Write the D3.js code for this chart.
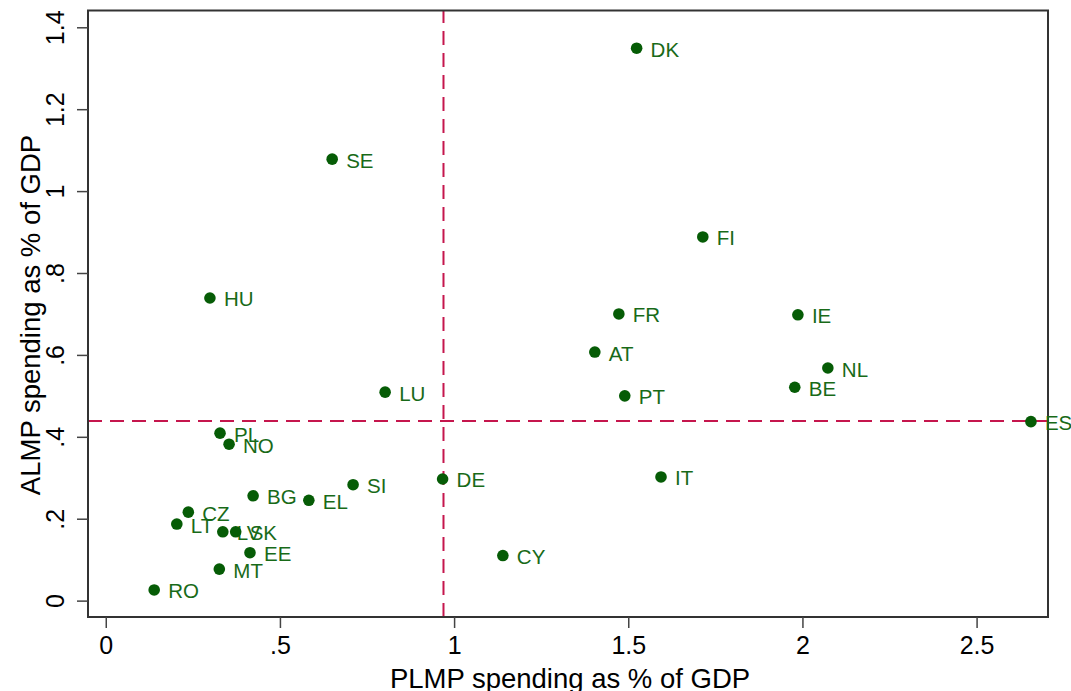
<!DOCTYPE html>
<html>
<head>
<meta charset="utf-8">
<script src="https://cdn.jsdelivr.net/npm/d3@7"></script>
<style>
  body { margin: 0; background: #fff; }
  text { font-family: "Liberation Sans", Arial, sans-serif; }
</style>
</head>
<body>
<script>
// country codes and spending (% of GDP)
var countries = ["DK","SE","FI","HU","FR","IE","AT","NL","BE","LU","PT","ES","PL","NO",
                 "DE","IT","SI","BG","EL","CZ","LT","LV","SK","EE","CY","MT","RO"]
var plmp = [1.524,0.650,1.714,0.299,1.473,1.987,1.404,2.073,1.978,0.802,1.490,2.656,0.328,0.354,
            0.967,1.594,0.710,0.423,0.583,0.237,0.204,0.336,0.373,0.414,1.140,0.326,0.139]
var almp = [1.349,1.078,0.888,0.739,0.700,0.698,0.607,0.568,0.521,0.509,0.500,0.437,0.409,0.382,
            0.297,0.302,0.283,0.256,0.245,0.216,0.187,0.168,0.168,0.117,0.110,0.077,0.026]
var xTicks = [0, 0.5, 1, 1.5, 2, 2.5]
var yTicks = [0, 0.2, 0.4, 0.6, 0.8, 1, 1.2, 1.4]

var width = 1071, height = 691
var svg = d3.select("body").append("svg")
    .attr("width", width).attr("height", height)

var data = countries.map(function(c, i){ return {label: c, x: plmp[i], y: almp[i]} })

var x = d3.scaleLinear().domain([-0.051, 2.705]).range([88, 1048])
var y = d3.scaleLinear().domain([-0.040, 1.441]).range([617, 10.5])

function fmt(v) {
    var s = String(v)
    return s.replace(/^0\./, ".")
}

// mean reference lines
var mx = d3.mean(plmp), my = d3.mean(almp)
svg.append("line")
    .attr("x1", x(mx)).attr("x2", x(mx))
    .attr("y1", y.range()[0]).attr("y2", y.range()[1])
    .attr("stroke", "#c5164d").attr("stroke-width", 2)
    .attr("stroke-dasharray", "14,8")
svg.append("line")
    .attr("x1", x.range()[0]).attr("x2", x.range()[1])
    .attr("y1", y(my)).attr("y2", y(my))
    .attr("stroke", "#c5164d").attr("stroke-width", 2)
    .attr("stroke-dasharray", "14,8")

// frame
svg.append("rect")
    .attr("x", 88).attr("y", 10.5)
    .attr("width", 1048 - 88).attr("height", 617 - 10.5)
    .attr("fill", "none").attr("stroke", "#333").attr("stroke-width", 2)

// x axis
var xAxis = svg.append("g").attr("transform", "translate(0,617)")
    .call(d3.axisBottom(x).tickValues(xTicks).tickFormat(fmt).tickSize(11).tickPadding(8))
xAxis.select(".domain").remove()
xAxis.selectAll(".tick line").attr("stroke", "#444").attr("stroke-width", 1.5)
xAxis.selectAll(".tick text").attr("font-size", 25).attr("fill", "#000")

// y axis, labels turned
var yAxis = svg.append("g").attr("transform", "translate(88,0)")
    .call(d3.axisLeft(y).tickValues(yTicks).tickFormat(fmt).tickSize(11))
yAxis.select(".domain").remove()
yAxis.selectAll(".tick line").attr("stroke", "#444").attr("stroke-width", 1.5)
yAxis.selectAll(".tick text")
    .attr("font-size", 25).attr("fill", "#000")
    .attr("x", -33).attr("dy", null)
    .attr("text-anchor", "middle").attr("dominant-baseline", "central")
    .attr("transform", "rotate(-90,-33,0)")

// axis titles
svg.append("text")
    .attr("x", 570).attr("y", 688)
    .attr("text-anchor", "middle").attr("font-size", 27.5)
    .text("PLMP spending as % of GDP")
svg.append("text")
    .attr("transform", "translate(40,315) rotate(-90)")
    .attr("text-anchor", "middle").attr("font-size", 27.5)
    .text("ALMP spending as % of GDP")

// points
var pts = svg.append("g").selectAll("g").data(data).enter().append("g")
pts.append("circle")
    .attr("cx", function(d){ return x(d.x) })
    .attr("cy", function(d){ return y(d.y) })
    .attr("r", 5.8)
    .attr("fill", "#065c06")
pts.append("text")
    .attr("x", function(d){ return x(d.x) + 14 })
    .attr("y", function(d){ return y(d.y) + 1 })
    .attr("dominant-baseline", "central")
    .attr("font-size", 20.5)
    .attr("fill", "#186a18")
    .text(function(d){ return d.label })
</script>
</body>
</html>
